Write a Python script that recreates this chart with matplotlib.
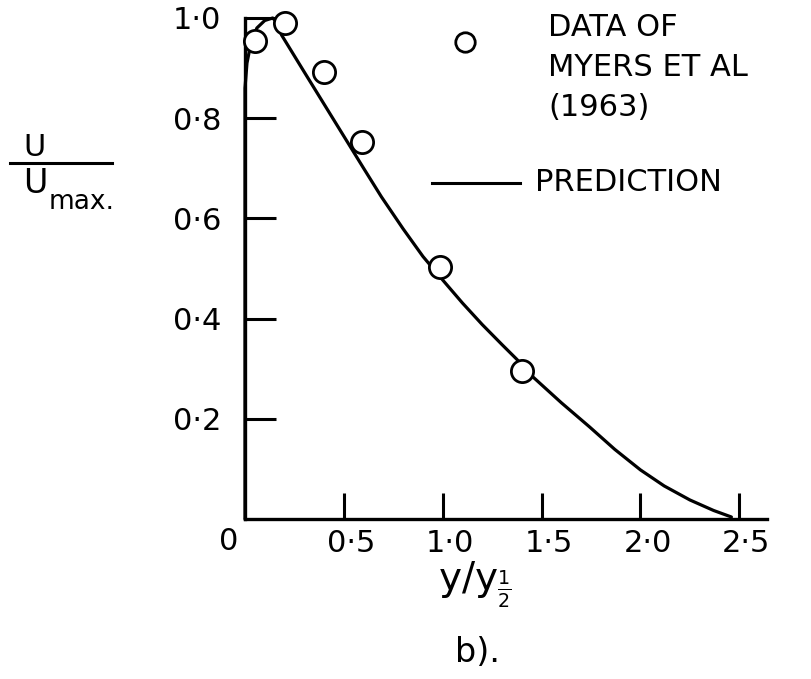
import matplotlib
matplotlib.use("Agg")
import matplotlib.pyplot as plt
import matplotlib.transforms as mtransforms
from matplotlib.lines import Line2D

# Measured mean-velocity profile, Myers et al. (1963)
data_y = [0.05, 0.20, 0.40, 0.59, 0.985, 1.40]
data_u = [0.954, 0.99, 0.892, 0.752, 0.503, 0.295]

# Predicted profile
pred_y = [0.0, 0.0, 0.01, 0.03, 0.06, 0.10, 0.14, 0.165, 0.185, 0.30, 0.45,
          0.60, 0.69, 0.80, 0.90, 1.00, 1.10, 1.20, 1.30, 1.374, 1.455, 1.60,
          1.742, 1.87, 2.00, 2.12, 2.25, 2.37, 2.46]
pred_u = [0.0, 0.86, 0.91, 0.95, 0.98, 0.995, 1.0, 0.99, 0.966, 0.892, 0.796,
          0.70, 0.643, 0.579, 0.524, 0.477, 0.431, 0.388, 0.348, 0.319, 0.284,
          0.232, 0.184, 0.139, 0.098, 0.066, 0.038, 0.017, 0.004]

xticks = [0.5, 1.0, 1.5, 2.0, 2.5]
xtick_labels = ["0·5", "1·0", "1·5", "2·0", "2·5"]
yticks = [0.2, 0.4, 0.6, 0.8, 1.0]
ytick_labels = ["0·2", "0·4", "0·6", "0·8", "1·0"]

W, H = 811, 679
plt.rcParams["font.family"] = ["DejaVu Sans"]
plt.rcParams["mathtext.fontset"] = "dejavusans"

fig = plt.figure(figsize=(W / 100, H / 100), dpi=100)


def fx(px):
    return px / W


def fy(py):
    return 1 - py / H


ax = fig.add_axes([fx(245), fy(519), (767 - 245) / W, (519 - 18) / H])
ax.set_xlim(0, 2.64)
ax.set_ylim(0, 1.0)
for s in ("top", "right"):
    ax.spines[s].set_visible(False)
for s in ("left", "bottom"):
    ax.spines[s].set_linewidth(2.4)

ax.plot(pred_y, pred_u, color="black", lw=2.3, solid_capstyle="round",
        solid_joinstyle="round", clip_on=False, zorder=2)
ax.plot(data_y, data_u, "o", ms=16, mfc="white", mec="black", mew=2.0,
        clip_on=False, zorder=3)

ax.set_xticks(xticks)
ax.set_xticklabels(xtick_labels)
ax.set_yticks(yticks)
ax.set_yticklabels(ytick_labels)
ax.tick_params(axis="y", direction="in", length=22, width=2.2, pad=17,
               labelsize=22)
ax.tick_params(axis="x", direction="in", length=19, width=2.2, pad=7,
               labelsize=22)
shift = mtransforms.ScaledTranslation(7 / 100, 0, fig.dpi_scale_trans)
for lab in ax.get_xticklabels():
    lab.set_transform(lab.get_transform() + shift)

# origin label
fig.text(fx(229), fy(541), "0", fontsize=22, ha="center", va="center")

# axis titles
fig.text(fx(35), fy(147), "U", fontsize=22, ha="center", va="center")
fig.add_artist(Line2D([fx(10), fx(112)], [fy(163), fy(163)],
                      transform=fig.transFigure, color="black", lw=2.2))
fig.text(fx(35), fy(184), "U", fontsize=24, ha="center", va="center")
fig.text(fx(49), fy(202), "max.", fontsize=19, ha="left", va="center")

fig.text(fx(475), fy(585), r"y/y$_{\frac{1}{2}}$", fontsize=28,
         ha="center", va="center")
fig.text(fx(477), fy(652), "b).", fontsize=24, ha="center", va="center")

# key
fig.add_artist(Line2D([fx(465)], [fy(42)], transform=fig.transFigure,
                      marker="o", ms=14, mfc="white", mec="black", mew=2.0))
fig.text(fx(548), fy(28), "DATA OF", fontsize=22, ha="left", va="center")
fig.text(fx(548), fy(68), "MYERS ET AL", fontsize=22, ha="left", va="center")
fig.text(fx(548), fy(108), "(1963)", fontsize=22, ha="left", va="center")
fig.add_artist(Line2D([fx(432), fx(520)], [fy(183), fy(183)],
                      transform=fig.transFigure, color="black", lw=2.2))
fig.text(fx(535), fy(183), "PREDICTION", fontsize=22, ha="left", va="center")

fig.savefig("out.png", dpi=100, facecolor="white")
